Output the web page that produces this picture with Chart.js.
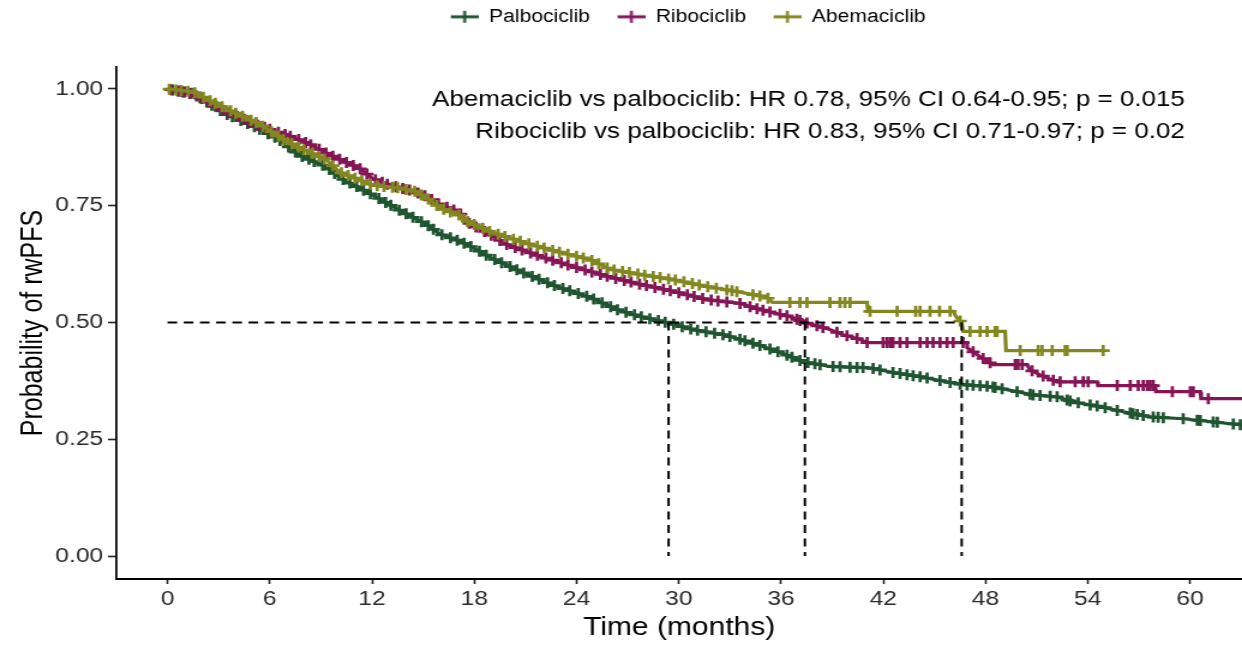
<!DOCTYPE html>
<html>
<head>
<meta charset="utf-8">
<title>rwPFS by CDK4/6 inhibitor</title>
<script src="https://cdn.jsdelivr.net/npm/chart.js@4.4.1/dist/chart.umd.min.js"></script>
<style>
  html, body { margin: 0; padding: 0; background: #fff; overflow: hidden; }
  /* the figure is drawn narrow and widened, like the exported plot */
  #wrap { width: 1035px; height: 649px; transform: scaleX(1.2); transform-origin: 0 0; }
</style>
</head>
<body>
<div id="wrap"><canvas id="km" width="1035" height="649"></canvas></div>
<script>
// Kaplan-Meier estimates (months, probability) - repeated time = drop
const palboTime = [0, 1.5, 3.46, 5.0, 6.4, 7.75, 9.34, 10.1, 12.04, 13.62, 15.2, 16.0, 17.1, 17.9, 18.9, 20.85, 22.84, 24.78, 26.36, 27.72, 29.3, 30.83, 32.6, 33.6, 34.76, 35.94, 37.3, 38.87, 41.22, 42.57, 44.16, 45.74, 46.68, 48.27, 49.85, 50.8, 52.2, 53.14, 54.73, 56.08, 57.66, 59.6, 61.95, 63.06];
const palboSurv = [1.0, 0.99, 0.946, 0.921, 0.895, 0.858, 0.833, 0.81, 0.773, 0.74, 0.71, 0.689, 0.675, 0.661, 0.64, 0.607, 0.577, 0.554, 0.528, 0.513, 0.50, 0.485, 0.474, 0.464, 0.451, 0.436, 0.416, 0.406, 0.403, 0.393, 0.384, 0.373, 0.367, 0.363, 0.352, 0.345, 0.341, 0.33, 0.32, 0.309, 0.298, 0.294, 0.285, 0.281];

const riboTime = [0, 1.5, 3.46, 5.4, 7.34, 8.34, 9.34, 11.27, 12.04, 13.21, 14.4, 15.2, 16.0, 17.1, 17.56, 18.9, 19.9, 21.84, 23.78, 25.78, 27.72, 29.65, 31.65, 33.59, 34.35, 35.53, 36.52, 37.4, 38.7, 39.64, 40.63, 41.05, 46.92, 46.92, 47.68, 48.44, 50.44, 50.6, 51.2, 52.2, 54.55, 54.6, 57.96, 58.0, 60.6, 60.65, 63.06];
const riboSurv = [1.0, 0.989, 0.951, 0.921, 0.897, 0.882, 0.862, 0.83, 0.808, 0.792, 0.782, 0.77, 0.752, 0.737, 0.715, 0.689, 0.667, 0.642, 0.62, 0.599, 0.582, 0.567, 0.549, 0.541, 0.532, 0.521, 0.513, 0.50, 0.487, 0.474, 0.464, 0.457, 0.457, 0.446, 0.427, 0.41, 0.41, 0.399, 0.388, 0.373, 0.373, 0.365, 0.365, 0.352, 0.352, 0.337, 0.337];

const abemaTime = [0, 1.5, 2.64, 3.82, 5.4, 6.75, 7.75, 9.34, 10.1, 12.04, 13.6, 14.6, 15.4, 16.0, 17.1, 17.56, 18.9, 20.85, 22.84, 24.78, 25.95, 27.72, 29.65, 31.65, 33.59, 35.17, 35.5, 41.05, 41.1, 46.1, 46.3, 46.6, 46.68, 49.15, 49.2, 54.9];
const abemaSurv = [1.0, 0.994, 0.972, 0.951, 0.925, 0.893, 0.874, 0.848, 0.822, 0.794, 0.788, 0.78, 0.762, 0.745, 0.73, 0.717, 0.695, 0.672, 0.652, 0.635, 0.614, 0.603, 0.592, 0.577, 0.565, 0.554, 0.543, 0.543, 0.524, 0.524, 0.511, 0.50, 0.481, 0.481, 0.44, 0.44];

// censoring times (months)
const palboCensor = [0.3, 0.7, 1.0, 1.4, 1.9, 2.3, 2.6, 3.1, 3.5, 3.8, 4.3, 4.7, 5.1, 5.4, 5.9, 6.3, 6.6, 7.1, 7.5, 7.9, 8.3, 8.6, 9.1, 9.5, 9.8, 10.3, 10.7, 11.1, 11.5, 11.9, 12.4, 12.8, 13.1, 13.6, 14.0, 14.4, 14.9, 15.3, 15.6, 16.1, 16.6, 17.0, 17.4, 17.8, 18.3, 18.7, 19.2, 19.6, 20.1, 20.5, 20.9, 21.4, 21.8, 22.3, 22.7, 23.2, 23.6, 24.1, 24.6, 25.0, 25.5, 26.0, 26.4, 26.9, 27.4, 27.8, 28.3, 28.8, 29.2, 29.7, 30.2, 30.7, 31.1, 31.6, 32.1,
  32.59, 33.0, 33.59, 33.88, 34.35, 34.76, 35.35, 35.82, 36.35, 36.64, 37.11, 37.58, 37.99, 38.29, 39.05, 39.46, 40.05, 40.46, 40.81, 41.4, 41.81, 42.57, 42.98, 43.39, 43.75, 44.16, 44.57, 45.33, 45.92, 46.51, 46.92, 47.27, 47.68, 48.09, 48.44, 48.56, 48.97, 49.85, 50.62, 50.79, 51.2, 51.79, 52.2, 52.79, 52.96, 53.44, 54.14, 54.55, 55.02, 55.73, 56.49, 56.66, 56.9, 57.25, 57.84, 58.13, 58.43, 59.6, 60.42, 60.6, 61.36, 61.6, 62.54, 62.95];
const riboCensor = [0.2, 0.6, 0.9, 1.3, 1.7, 2.0, 2.4, 2.9, 3.3, 3.6, 4.1, 4.5, 4.8, 5.3, 5.7, 6.0, 6.5, 6.9, 7.2, 7.7, 8.1, 8.4, 8.9, 9.3, 9.7, 10.1, 10.5, 10.9, 11.3, 11.7, 12.2, 12.6, 12.9, 13.4, 13.8, 14.2, 14.7, 15.1, 15.5, 15.9, 16.4, 16.8, 17.2, 17.7, 18.1, 18.6, 19.0, 19.5, 19.9, 20.4, 20.8, 21.3, 21.7, 22.2, 22.6, 23.1, 23.5, 24.0, 24.5, 24.9, 25.4, 25.8, 26.3, 26.8, 27.2, 27.7, 28.1, 28.6, 29.1, 29.5, 30.0, 30.5, 30.9, 31.4, 31.9, 32.3,
  32.82, 33.59, 34.18, 34.59, 34.94, 35.35, 35.94, 36.35, 36.93, 37.11, 37.52, 38.11, 38.46, 39.28, 39.87, 40.46, 41.05, 41.99, 42.22, 42.4, 42.57, 42.98, 43.39, 44.16, 44.57, 44.92, 45.33, 45.74, 46.1, 46.68, 47.27, 47.86, 48.27, 49.74, 49.91, 50.15, 50.73, 51.38, 51.97, 52.38, 53.26, 53.73, 54.02, 55.73, 56.49, 56.96, 57.25, 57.49, 57.66, 57.84, 58.96, 60.01, 60.19, 61.07];
const abemaCensor = [0.1, 0.5, 0.8, 1.2, 1.6, 2.1, 2.5, 2.8, 3.2, 3.7, 4.0, 4.4, 4.9, 5.2, 5.6, 6.1, 6.5, 6.8, 7.3, 7.7, 8.0, 8.5, 8.9, 9.2, 9.7, 10.2, 10.6, 11.0, 11.4, 11.9, 12.3, 12.7, 13.2, 13.5, 14.0, 14.5, 14.9, 15.3, 15.8, 16.2, 16.6, 17.1, 17.6, 18.0, 18.5, 18.9, 19.4, 19.8, 20.3, 20.7, 21.2, 21.7, 22.1, 22.6, 23.0, 23.5, 24.0, 24.4, 24.9, 25.3, 25.8, 26.2, 26.7, 27.1, 27.6, 28.0, 28.5, 28.9, 29.4, 29.8, 30.3, 30.8, 31.2, 31.7, 32.2,
  32.82, 33.12, 33.41, 34.35, 34.76, 35.23, 36.52, 37.11, 37.52, 38.87, 39.46, 39.75, 40.05, 41.22, 42.81, 43.9, 44.16, 44.74, 45.3, 45.92, 46.51, 47.09, 47.68, 48.09, 48.56, 48.68, 50.03, 51.09, 51.32, 51.91, 52.67, 52.79, 54.9];

const medianLevel = 0.5;
const medianTimes = [29.4, 37.4, 46.6];

const xTicks = [0, 6, 12, 18, 24, 30, 36, 42, 48, 54, 60];
const yTicks = [0, 0.25, 0.5, 0.75, 1.0];

const hrLines = [
  'Abemaciclib vs palbociclib: HR 0.78, 95% CI 0.64-0.95; p = 0.015',
  'Ribociclib vs palbociclib: HR 0.83, 95% CI 0.71-0.97; p = 0.02'
];

const FONT = '"Liberation Sans", Arial, Helvetica, sans-serif';

const groups = [
  { label: 'Palbociclib', color: '#1f5530', times: palboTime, surv: palboSurv, censor: palboCensor },
  { label: 'Ribociclib', color: '#861556', times: riboTime, surv: riboSurv, censor: riboCensor },
  { label: 'Abemaciclib', color: '#83871f', times: abemaTime, surv: abemaSurv, censor: abemaCensor }
];

function survAt(times, surv, t) {
  for (let i = 1; i < times.length; i++) {
    if (t <= times[i]) {
      let t0 = times[i - 1], t1 = times[i];
      if (t1 === t0) return surv[i];
      return surv[i - 1] + (surv[i] - surv[i - 1]) * (t - t0) / (t1 - t0);
    }
  }
  return surv[surv.length - 1];
}

// line with a cross, used as the legend key
function legendIcon(color) {
  let c = document.createElement('canvas');
  c.width = 38;
  c.height = 14;
  let g = c.getContext('2d');
  g.strokeStyle = color;
  g.lineWidth = 3;
  g.beginPath(); g.moveTo(15, 7); g.lineTo(38, 7); g.stroke();
  g.lineWidth = 2.4;
  g.beginPath(); g.moveTo(26.5, 1); g.lineTo(26.5, 13); g.stroke();
  return c;
}

let datasets = [];
groups.forEach((grp, k) => {
  datasets.push({
    label: grp.label,
    data: grp.times.map((t, i) => ({ x: t, y: grp.surv[i] })),
    showLine: true,
    borderColor: grp.color,
    backgroundColor: grp.color,
    borderWidth: 3.2,
    tension: 0,
    pointRadius: 0,
    pointStyle: legendIcon(grp.color),
    order: 10 - k * 2
  });
  datasets.push({
    label: grp.label + ' (censored)',
    data: grp.censor.map(t => ({ x: t, y: survAt(grp.times, grp.surv, t) })),
    showLine: false,
    pointStyle: 'cross',
    pointRadius: 5.5,
    borderColor: grp.color,
    borderWidth: 2.7,
    order: 9 - k * 2
  });
});

// median guide lines
const dashStyle = { showLine: true, borderColor: '#000', borderWidth: 2, borderDash: [8, 5.5], pointRadius: 0, order: 0, label: 'median' };
datasets.push(Object.assign({}, dashStyle, {
  data: [{ x: 0, y: medianLevel }, { x: Math.max(...medianTimes), y: medianLevel }]
}));
medianTimes.forEach(m => {
  datasets.push(Object.assign({}, dashStyle, { data: [{ x: m, y: medianLevel }, { x: m, y: 0 }] }));
});

const legendSpace = {
  id: 'legendSpace',
  beforeInit(chart) {
    const fit = chart.legend.fit;
    chart.legend.fit = function () {
      fit.call(this);
      this.height = 67;
    };
  }
};

const hrText = {
  id: 'hrText',
  afterDatasetsDraw(chart) {
    const { ctx, scales } = chart;
    ctx.save();
    ctx.font = '21.7px ' + FONT;
    ctx.fillStyle = '#000';
    ctx.textAlign = 'right';
    ctx.textBaseline = 'middle';
    const x = scales.x.getPixelForValue(59.7);
    ctx.fillText(hrLines[0], x, scales.y.getPixelForValue(0.976));
    ctx.fillText(hrLines[1], x, scales.y.getPixelForValue(0.908));
    ctx.restore();
  }
};

const legendNames = groups.map(g => g.label);

new Chart(document.getElementById('km').getContext('2d'), {
  type: 'scatter',
  data: { datasets: datasets },
  options: {
    responsive: false,
    animation: false,
    devicePixelRatio: 1,
    events: [],
    layout: { padding: 0, autoPadding: false },
    plugins: {
      tooltip: { enabled: false },
      legend: {
        position: 'top',
        fullSize: false,
        labels: {
          usePointStyle: true,
          pointStyleWidth: 38,
          padding: 8,
          color: '#000',
          font: { family: FONT, size: 17.6 },
          filter: item => legendNames.includes(item.text),
          sort: (a, b) => a.datasetIndex - b.datasetIndex
        }
      }
    },
    scales: {
      x: {
        type: 'linear',
        min: -3,
        max: 63.05,
        afterBuildTicks: s => { s.ticks = xTicks.map(v => ({ value: v })); },
        afterFit: s => { s.height = 70; },
        grid: { display: true, drawOnChartArea: false, drawTicks: true, tickLength: 5, tickColor: '#222', tickWidth: 1.6 },
        border: { display: true, color: '#000', width: 2 },
        ticks: { color: '#2b2b2b', font: { family: FONT, size: 20.5 }, padding: 3, maxRotation: 0, autoSkip: false },
        title: { display: true, text: 'Time (months)', color: '#000', font: { family: FONT, size: 25 }, padding: { top: 0, bottom: 6 } }
      },
      y: {
        type: 'linear',
        min: -0.049,
        max: 1.047,
        afterBuildTicks: s => { s.ticks = yTicks.map(v => ({ value: v })); },
        afterFit: s => { s.width = 97; },
        grid: { display: true, drawOnChartArea: false, drawTicks: true, tickLength: 7, tickColor: '#222', tickWidth: 1.6 },
        border: { display: true, color: '#000', width: 1.8 },
        ticks: { color: '#2b2b2b', font: { family: FONT, size: 20.5 }, padding: 4, callback: v => v.toFixed(2) },
        title: { display: true, text: 'Probability of rwPFS', color: '#000', font: { family: FONT, size: 25 }, padding: { top: 13, bottom: 0 } }
      }
    }
  },
  plugins: [legendSpace, hrText]
});
</script>
</body>
</html>
